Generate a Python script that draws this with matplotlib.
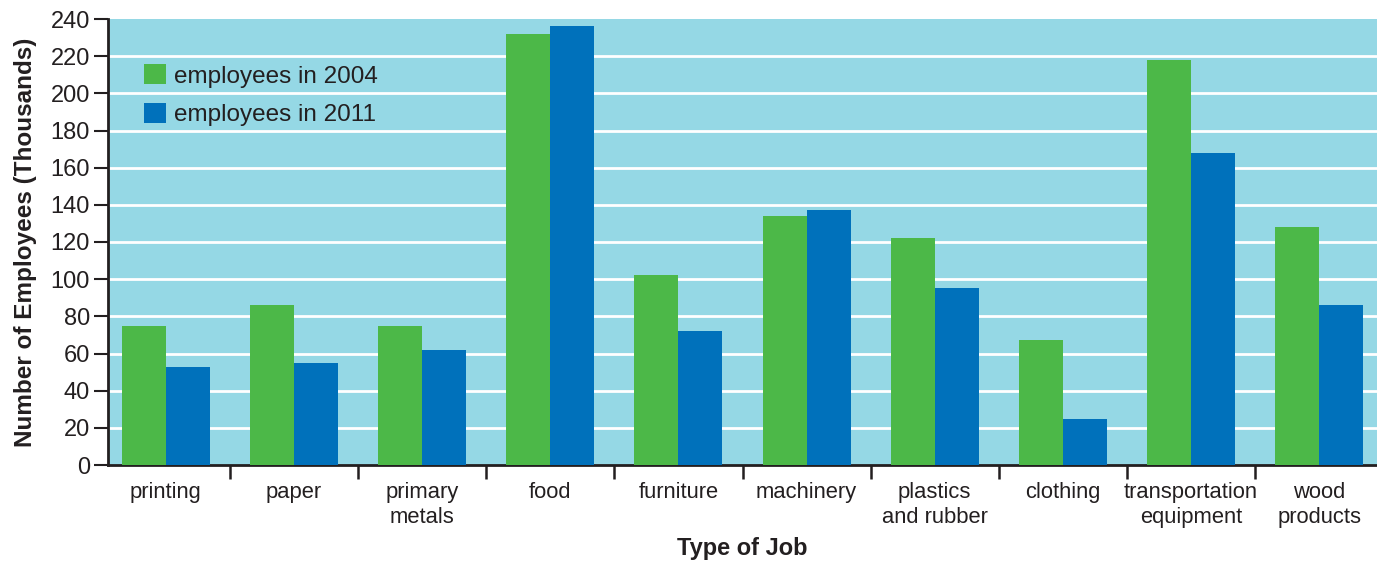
import numpy as np
import matplotlib
matplotlib.use("Agg")
import matplotlib.pyplot as plt

plt.rcParams["font.family"] = ["Liberation Sans", "DejaVu Sans"]

GREEN, BLUE, BG, INK = "#4cb848", "#0071bb", "#95d8e5", "#231f20"

JOBS = ["printing", "paper", "primary\nmetals", "food", "furniture", "machinery",
        "plastics\nand rubber", "clothing", "transportation\nequipment", "wood\nproducts"]
EMP_2004 = [75, 86, 75, 232, 102, 134, 122, 67, 218, 128]
EMP_2011 = [53, 55, 62, 236, 72, 137, 95, 25, 168, 86]
Y_TICKS = list(range(0, 241, 20))

fig = plt.figure(figsize=(13.77, 5.61), dpi=100)
ax = fig.add_axes([108 / 1377, 96 / 561, 1 - 108 / 1377, 446 / 561])
ax.set_facecolor(BG)

x = np.arange(len(JOBS))
w = 0.343
ax.bar(x - w / 2, EMP_2004, w, color=GREEN, label="employees in 2004", zorder=3)
ax.bar(x + w / 2, EMP_2011, w, color=BLUE, label="employees in 2011", zorder=3)

for v in Y_TICKS[1:-1]:
    ax.axhline(v, color="white", lw=2, zorder=1)

ax.set_xlim(-0.452, len(JOBS) - 0.548)
ax.set_ylim(0, 240)
ax.set_yticks(Y_TICKS)
ax.tick_params(axis="y", length=10, width=1.5, color=INK, labelsize=17,
               labelcolor=INK, pad=3)

ax.set_xticks(x)
ax.set_xticklabels(JOBS, fontsize=15.8, color=INK, linespacing=1.25)
ax.set_xticks(x[:-1] + 0.5, minor=True)
ax.tick_params(axis="x", which="major", length=0, pad=12)
ax.tick_params(axis="x", which="minor", length=10, width=1.8, color=INK)

for s in ("top", "right"):
    ax.spines[s].set_visible(False)
for s in ("left", "bottom"):
    ax.spines[s].set_color(INK)
    ax.spines[s].set_linewidth(2)

ax.set_xlabel("Type of Job", fontsize=17, fontweight="bold", color=INK, labelpad=7)
ax.set_ylabel("Number of Employees (Thousands)", fontsize=17.5, fontweight="bold",
              color=INK, labelpad=10)

ax.legend(loc="upper left", bbox_to_anchor=(0.0115, 0.948), frameon=False,
          fontsize=17.5, handlelength=0.9, handleheight=0.9, handletextpad=0.3,
          labelspacing=0.62, labelcolor=INK)

fig.savefig("out.png", dpi=100, facecolor="white")
